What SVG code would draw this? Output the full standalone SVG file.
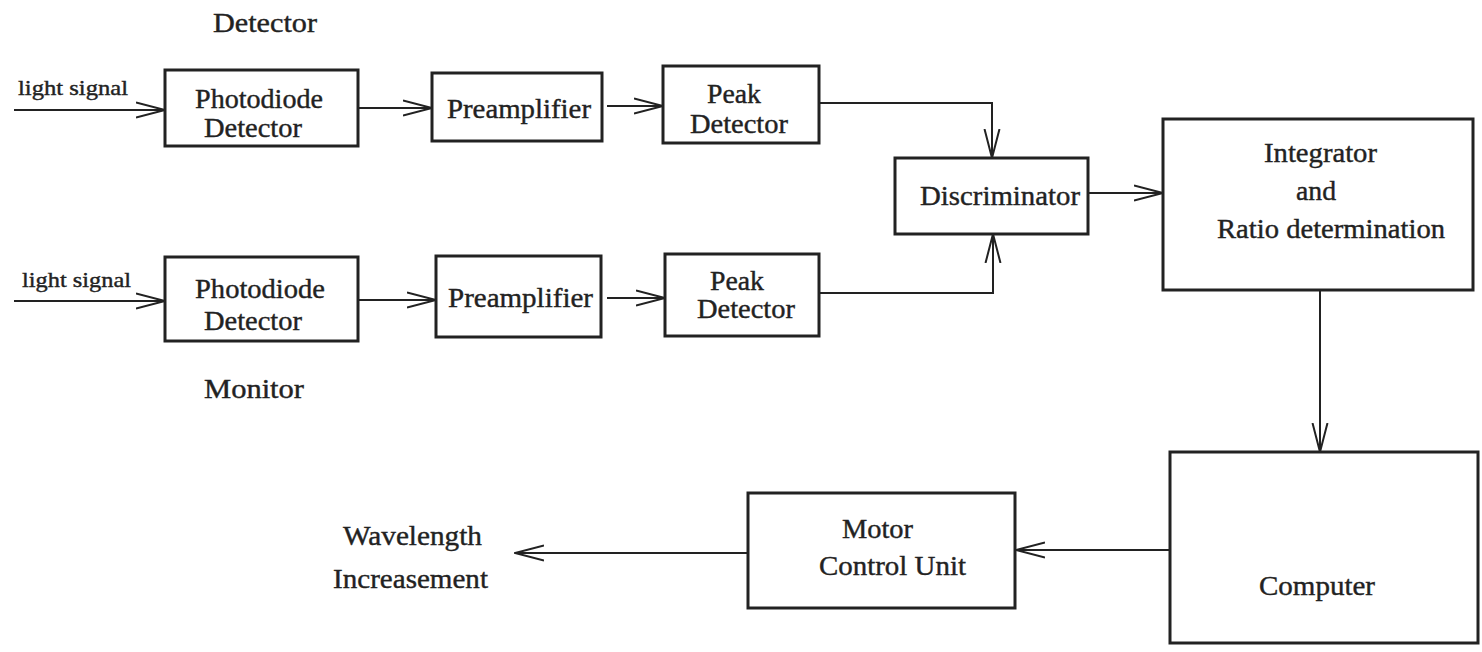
<svg xmlns="http://www.w3.org/2000/svg" width="1482" height="652" viewBox="0 0 1482 652">
<style>
.box{fill:#fff;stroke:#222;stroke-width:3}
.c{fill:none;stroke:#222;stroke-width:2}
text{font-family:"Liberation Serif","Times New Roman",serif;fill:#222;stroke:#222;stroke-width:0.4;font-size:28px}
.s{font-size:22px}
</style>
<defs>
<marker id="ah" markerUnits="userSpaceOnUse" viewBox="0 0 30 18" refX="29" refY="9" markerWidth="30" markerHeight="18" orient="auto">
<path d="M0,1.5 L29,9 L0,16.5" fill="none" stroke="#222" stroke-width="2"/>
</marker>
</defs>
<rect width="1482" height="652" fill="#fff"/>
<g id="labels">
<text x="213" y="32" textLength="104" lengthAdjust="spacingAndGlyphs">Detector</text>
<text x="204" y="398" textLength="100" lengthAdjust="spacingAndGlyphs">Monitor</text>
<text class="s" x="18" y="95" textLength="110" lengthAdjust="spacingAndGlyphs">light signal</text>
<text class="s" x="22" y="287" textLength="109" lengthAdjust="spacingAndGlyphs">light signal</text>
<text x="343" y="545" textLength="139" lengthAdjust="spacingAndGlyphs">Wavelength</text>
<text x="333" y="588" textLength="155" lengthAdjust="spacingAndGlyphs">Increasement</text>
</g>
<g id="photodiode-top">
<rect class="box" x="165" y="70" width="193" height="76"/>
<text x="195" y="108" textLength="128" lengthAdjust="spacingAndGlyphs">Photodiode</text>
<text x="204" y="137" textLength="98" lengthAdjust="spacingAndGlyphs">Detector</text>
</g>
<g id="preamp-top">
<rect class="box" x="432" y="73" width="170" height="68"/>
<text x="447" y="118" textLength="144" lengthAdjust="spacingAndGlyphs">Preamplifier</text>
</g>
<g id="peak-top">
<rect class="box" x="663" y="66" width="156" height="77"/>
<text x="707" y="103" textLength="54" lengthAdjust="spacingAndGlyphs">Peak</text>
<text x="690" y="133" textLength="98" lengthAdjust="spacingAndGlyphs">Detector</text>
</g>
<g id="photodiode-bottom">
<rect class="box" x="165" y="257" width="193" height="84"/>
<text x="195" y="298" textLength="130" lengthAdjust="spacingAndGlyphs">Photodiode</text>
<text x="204" y="330" textLength="98" lengthAdjust="spacingAndGlyphs">Detector</text>
</g>
<g id="preamp-bottom">
<rect class="box" x="436" y="256" width="165" height="81"/>
<text x="448" y="307" textLength="145" lengthAdjust="spacingAndGlyphs">Preamplifier</text>
</g>
<g id="peak-bottom">
<rect class="box" x="665" y="254" width="154" height="82"/>
<text x="710" y="290" textLength="54" lengthAdjust="spacingAndGlyphs">Peak</text>
<text x="697" y="318" textLength="98" lengthAdjust="spacingAndGlyphs">Detector</text>
</g>
<g id="discriminator">
<rect class="box" x="895" y="158" width="193" height="76"/>
<text x="920" y="205" textLength="160" lengthAdjust="spacingAndGlyphs">Discriminator</text>
</g>
<g id="integrator">
<rect class="box" x="1163" y="119" width="310" height="171"/>
<text x="1264" y="162" textLength="113" lengthAdjust="spacingAndGlyphs">Integrator</text>
<text x="1296" y="200" textLength="40" lengthAdjust="spacingAndGlyphs">and</text>
<text x="1217" y="238" textLength="228" lengthAdjust="spacingAndGlyphs">Ratio determination</text>
</g>
<g id="computer">
<rect class="box" x="1170" y="452" width="308" height="191"/>
<text x="1259" y="595" textLength="116" lengthAdjust="spacingAndGlyphs">Computer</text>
</g>
<g id="motor">
<rect class="box" x="748" y="493" width="267" height="115"/>
<text x="842" y="538" textLength="71" lengthAdjust="spacingAndGlyphs">Motor</text>
<text x="819" y="575" textLength="147" lengthAdjust="spacingAndGlyphs">Control Unit</text>
</g>
<g id="connectors">
<path class="c" d="M14,110 H165" marker-end="url(#ah)"/>
<path class="c" d="M14,301 H165" marker-end="url(#ah)"/>
<path class="c" d="M358,108 H432" marker-end="url(#ah)"/>
<path class="c" d="M358,300 H436" marker-end="url(#ah)"/>
<path class="c" d="M607,106 H663" marker-end="url(#ah)"/>
<path class="c" d="M607,298 H665" marker-end="url(#ah)"/>
<path class="c" d="M819,103 H992 V158" marker-end="url(#ah)"/>
<path class="c" d="M819,293 H993 V234" marker-end="url(#ah)"/>
<path class="c" d="M1088,193 H1163" marker-end="url(#ah)"/>
<path class="c" d="M1320,291 V452" marker-end="url(#ah)"/>
<path class="c" d="M1170,550 H1016" marker-end="url(#ah)"/>
<path class="c" d="M748,553 H515" marker-end="url(#ah)"/>
</g>
</svg>
